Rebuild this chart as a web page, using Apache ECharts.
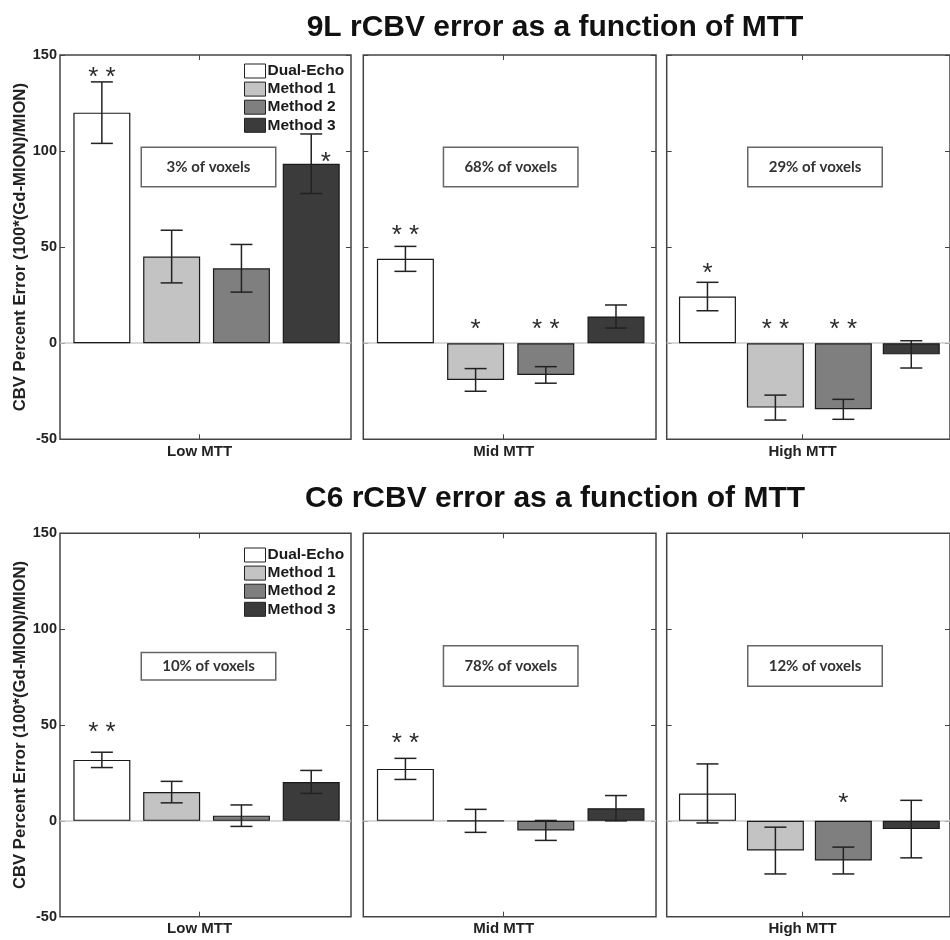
<!DOCTYPE html>
<html>
<head>
<meta charset="utf-8">
<script src="https://cdn.jsdelivr.net/npm/echarts@6/dist/echarts.min.js"></script>
<style>
  html, body { margin: 0; padding: 0; background: #ffffff; }
  #chart { width: 950px; height: 940px; }
</style>
</head>
<body>
<div id="chart"></div>
<script>
// ---------------- data ----------------
const methods = ['Dual-Echo', 'Method 1', 'Method 2', 'Method 3'];
const barPositions = [1, 2, 3, 4];
const mttGroups = ['Low MTT', 'Mid MTT', 'High MTT'];
const panelTitles = ['9L rCBV error as a function of MTT', 'C6 rCBV error as a function of MTT'];
const yAxisTitle = 'CBV Percent Error (100*(Gd-MION)/MION)';
const yTickValues = [-50, 0, 50, 100, 150];
const xTickValue = 2.4;

const voxels9L = ['3% of voxels', '68% of voxels', '29% of voxels'];
const voxelsC6 = ['10% of voxels', '78% of voxels', '12% of voxels'];

// 9L: mean percent error per MTT group (Dual-Echo, Method 1, Method 2, Method 3)
const mean9LLow  = [120, 45.1, 39.0, 93.4];
const mean9LMid  = [43.9, -19.1, -16.5, 13.9];
const mean9LHigh = [24.3, -33.5, -34.4, -5.8];
// 9L: error bar half-widths
const err9LLow  = [16.0, 13.7, 12.4, 15.5];
const err9LMid  = [6.5, 5.9, 4.3, 6.0];
const err9LHigh = [7.4, 6.5, 5.2, 7.1];

// C6
const meanC6Low  = [31.8, 15.0, 2.7, 20.3];
const meanC6Mid  = [27.1, 0, -5.0, 6.6];
const meanC6High = [14.3, -15.5, -20.7, -4.3];
const errC6Low  = [4.0, 5.6, 5.6, 6.0];
const errC6Mid  = [5.5, 6.0, 5.2, 6.6];
const errC6High = [15.4, 12.2, 7.0, 15.0];

// significance markers: [x position, y value, text]
const stars9LLow  = [[1, 141.5, '* *'], [4.21, 97, '*']];
const stars9LMid  = [[1, 59, '* *'], [2, 9.9, '*'], [3, 9.9, '* *']];
const stars9LHigh = [[1, 39, '*'], [2, 9.9, '* *'], [3, 9.9, '* *']];
const starsC6Low  = [[1, 49.2, '* *']];
const starsC6Mid  = [[1, 43.1, '* *']];
const starsC6High = [[3, 11.8, '*']];

// ---------------- layout / style ----------------
const rows = [
  { means: [mean9LLow, mean9LMid, mean9LHigh], errs: [err9LLow, err9LMid, err9LHigh],
    stars: [stars9LLow, stars9LMid, stars9LHigh], voxels: voxels9L },
  { means: [meanC6Low, meanC6Mid, meanC6High], errs: [errC6Low, errC6Mid, errC6High],
    stars: [starsC6Low, starsC6Mid, starsC6High], voxels: voxelsC6 }
];
const colLeft = [60, 363.3, 666.7];
const colWidth = [291, 292.7, 292];
const rowTop = [55, 533.3];
const rowHeight = [384.3, 383.4];
const titleTop = [13, 484];
const legendTop = [63, 547];
const boxGeom = [
  [[80.5, 146.5, 134.5, 39.5], [79.4, 146.5, 134.5, 39.5], [80.3, 146.5, 134.5, 39.5]],
  [[80.5, 651.7, 134.5, 27.5], [79.4, 645, 134.5, 40.5], [80.3, 645, 134.5, 40.5]]
];
const barColors = ['#ffffff', '#c3c3c3', '#7f7f7f', '#3b3b3b'];
const FONT = '"Liberation Sans", Arial, Helvetica, sans-serif';
const AX = '#444';

const grid = [], xAxis = [], yAxis = [], series = [], graphic = [], title = [], legend = [];

rows.forEach((row, r) => {
  title.push({
    text: panelTitles[r], left: 555, top: titleTop[r], textAlign: 'center', padding: 0,
    textStyle: { fontFamily: FONT, fontWeight: 'bold', fontSize: 30, color: '#111' }
  });
  legend.push({
    data: methods, orient: 'vertical', left: 244, top: legendTop[r], padding: 0,
    itemWidth: 21, itemHeight: 14, itemGap: 2.1, icon: 'rect', selectedMode: false,
    itemStyle: { borderColor: '#222', borderWidth: 1 },
    textStyle: { fontFamily: FONT, fontWeight: 'bold', fontSize: 15.5, color: '#1a1a1a', padding: [0, 0, 0, -3] }
  });
  for (let c = 0; c < 3; c++) {
    const gi = r * 3 + c;
    grid.push({
      left: colLeft[c], top: rowTop[r], width: colWidth[c], height: rowHeight[r],
      show: true, borderColor: AX, borderWidth: 1.5, backgroundColor: 'transparent'
    });
    const tickStyle = { show: true, inside: true, length: 5, lineStyle: { color: AX, width: 1 } };
    xAxis.push({
      type: 'value', gridIndex: gi, min: 0.4, max: 4.57, position: 'bottom',
      axisLine: { show: false, onZero: false }, splitLine: { show: false },
      axisTick: Object.assign({ customValues: [xTickValue] }, tickStyle),
      axisLabel: {
        show: true, customValues: [xTickValue], formatter: () => mttGroups[c], margin: 5,
        fontFamily: FONT, fontWeight: 'bold', fontSize: 15, color: '#222'
      }
    });
    xAxis.push({
      type: 'value', gridIndex: gi, min: 0.4, max: 4.57, position: 'top',
      axisLine: { show: false, onZero: false }, splitLine: { show: false },
      axisTick: Object.assign({ customValues: [xTickValue] }, tickStyle),
      axisLabel: { show: false }
    });
    yAxis.push({
      type: 'value', gridIndex: gi, min: yTickValues[0], max: yTickValues[yTickValues.length - 1], interval: 50,
      position: 'left', axisLine: { show: false, onZero: false }, splitLine: { show: false },
      axisTick: tickStyle,
      axisLabel: {
        show: c === 0, margin: 3, fontFamily: FONT, fontWeight: 'bold', fontSize: 14.5, color: '#222',
        showMinLabel: true, showMaxLabel: true
      },
      name: c === 0 ? yAxisTitle : '', nameLocation: 'middle', nameGap: 31,
      nameTextStyle: { fontFamily: FONT, fontWeight: 'bold', fontSize: 16.7, color: '#222' }
    });
    yAxis.push({
      type: 'value', gridIndex: gi, min: yTickValues[0], max: yTickValues[yTickValues.length - 1], interval: 50,
      position: 'right', axisLine: { show: false, onZero: false }, splitLine: { show: false },
      axisTick: tickStyle, axisLabel: { show: false }
    });

    const xi = gi * 2, yi = gi * 2;
    methods.forEach((m, k) => {
      const s = {
        type: 'bar', name: m, xAxisIndex: xi, yAxisIndex: yi,
        data: [[barPositions[k], row.means[c][k]]],
        barWidth: 57, barGap: '-100%', z: 3,
        itemStyle: { color: barColors[k], borderColor: '#1a1a1a', borderWidth: 1.2 },
        emphasis: { disabled: true }, silent: true
      };
      if (k === 0) {
        s.markLine = {
          silent: true, symbol: ['none', 'none'], label: { show: false },
          lineStyle: { color: '#cccccc', width: 1.5, type: 'solid' },
          data: [{ yAxis: 0 }], z: 1, animation: false
        };
      }
      series.push(s);
    });

    // error bars
    series.push({
      type: 'custom', xAxisIndex: xi, yAxisIndex: yi, z: 6, silent: true,
      data: row.means[c].map((v, k) => [barPositions[k], v - row.errs[c][k], v + row.errs[c][k]]),
      encode: { x: 0, y: [1, 2] },
      renderItem: (params, api) => {
        const x = api.value(0);
        const top = api.coord([x, api.value(2)]);
        const bot = api.coord([x, api.value(1)]);
        const hw = 11;
        const st = { stroke: '#222', lineWidth: 1.5 };
        return {
          type: 'group', children: [
            { type: 'line', shape: { x1: top[0], y1: top[1], x2: bot[0], y2: bot[1] }, style: st },
            { type: 'line', shape: { x1: top[0] - hw, y1: top[1], x2: top[0] + hw, y2: top[1] }, style: st },
            { type: 'line', shape: { x1: bot[0] - hw, y1: bot[1], x2: bot[0] + hw, y2: bot[1] }, style: st }
          ]
        };
      }
    });

    // significance asterisks
    const starData = row.stars[c];
    series.push({
      type: 'custom', xAxisIndex: xi, yAxisIndex: yi, z: 7, silent: true,
      data: starData.map(s => [s[0], s[1]]),
      encode: { x: 0, y: 1 },
      renderItem: (params, api) => {
        const p = api.coord([api.value(0), api.value(1)]);
        return {
          type: 'text', x: p[0], y: p[1] + 6,
          style: {
            text: starData[params.dataIndex][2], fill: '#2a2a2a', align: 'center', verticalAlign: 'middle',
            font: '26px "Liberation Sans", Arial, sans-serif'
          }
        };
      }
    });

    const g = boxGeom[r][c];
    graphic.push({
      type: 'group', left: colLeft[c] + g[0], top: g[1], silent: true,
      children: [
        { type: 'rect', shape: { x: 0, y: 0, width: g[2], height: g[3] },
          style: { fill: '#fff', stroke: '#666', lineWidth: 1.5 } },
        { type: 'text', x: g[2] / 2, y: g[3] / 2,
          style: { text: row.voxels[c], fill: '#333', align: 'center', verticalAlign: 'middle',
                   font: 'bold 15px Lato, "Open Sans", sans-serif' } }
      ]
    });
  }
});

const chart = echarts.init(document.getElementById('chart'), null, { renderer: 'canvas' });
chart.setOption({
  backgroundColor: '#ffffff',
  animation: false,
  title, legend, grid, xAxis, yAxis, series, graphic,
  tooltip: { show: false }
});
</script>
</body>
</html>
